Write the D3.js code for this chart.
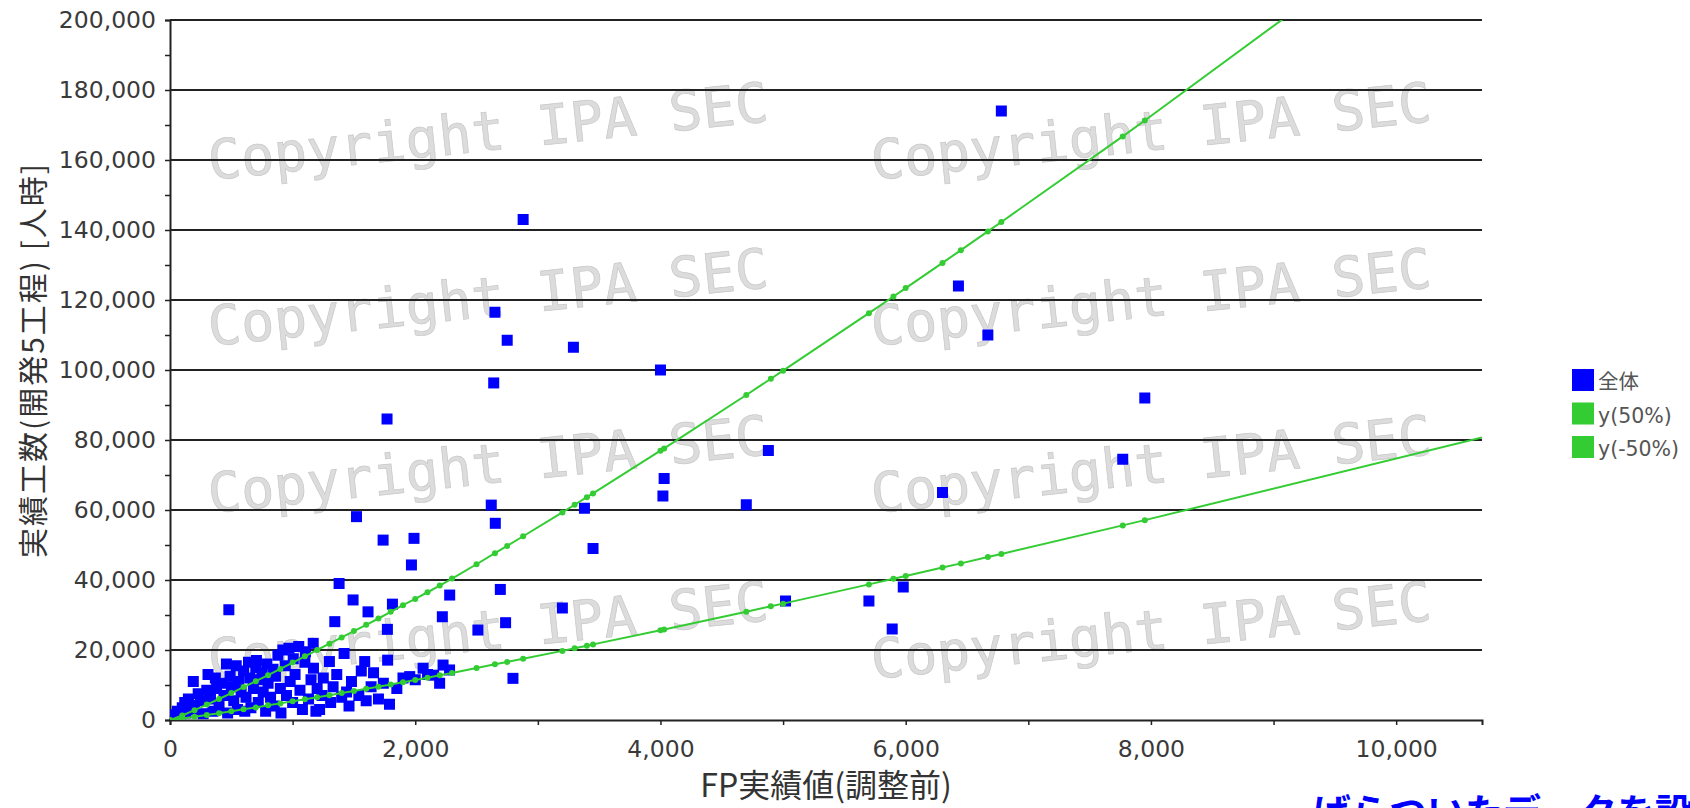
<!DOCTYPE html>
<html>
<head>
<meta charset="utf-8">
<script src="https://cdn.jsdelivr.net/npm/d3@7"></script>
<style>
  body { margin: 0; background: #fff; }
  svg { display: block; }
</style>
</head>
<body>
<div id="graph"></div>
<script>
// FP実績値 / 実績工数 (全体)
var fpValues = [
  20, 40, 60, 80, 100, 120, 130, 150, 170, 190, 200, 230, 250, 270, 300, 310, 330, 350, 370, 380,
  400, 420, 440, 460, 470, 480, 490, 500, 520, 540, 550, 560, 580, 600, 610,
  620, 640, 650, 660, 680, 700, 705, 720, 730, 750, 760, 780, 790, 800, 820, 840, 850, 860, 880, 900, 905,
  920, 940, 950, 970, 980, 1000, 1005, 1020, 1050, 1060, 1080, 1100, 1105, 1130, 1150, 1170, 1168, 1190, 1200,
  1220, 1240, 1250, 1300, 1310, 1330, 1344, 1360, 1379, 1400, 1420, 1440, 1460, 1480, 1493,
  1521, 1540, 1560, 1588, 1600, 1615, 1640, 1660, 1700, 1740, 1738, 1773, 1775, 1790, 1770, 1814,
  1850, 1900, 1955, 1969, 1990, 2000, 2064, 2100, 2150, 2199, 2221, 2227, 2281, 2280,
  2511, 2620, 2653, 2694, 2737, 2797, 2650, 2640, 2750, 2880,
  3200, 3290, 3380, 3450, 4000, 4030, 4020, 4700, 4880, 5020, 5700, 5890, 5980, 6300, 6430, 6670, 6780, 7770, 7950
];
var effortValues = [
  800, 1500, 2500, 1200, 3500, 5000, 2000, 6000, 4200, 11000, 3000, 7500, 5500, 1800, 8500, 13000, 6000, 2500, 12000, 9000,
  4000, 10500, 7000, 16000, 2000, 31500, 12500, 9500, 5500, 15500, 3000, 11000, 8000, 14000, 2500,
  6500, 16500, 12000, 3500, 9000, 15000, 17000, 5000, 11500, 13500, 8000, 2500, 16000, 10500, 6500, 14500, 4000, 12500, 18500, 9000, 2000,
  20000, 15500, 7000, 20500, 11000, 5000, 17500, 13000, 21000, 8500, 3000, 16500, 19500, 6000, 11500, 14800, 21900, 2500, 9000,
  3000, 7000, 12000, 16700, 5000, 9500, 28100, 13000, 39000, 6500, 19000, 8000, 4000, 11000, 34300,
  58100, 7000, 14000, 16700, 5500, 30900, 9500, 13500, 6000, 10500, 51400, 25900, 17100, 4500, 86000, 33100,
  9000, 12000, 12400, 44300, 51900, 11500, 14800, 13000, 12800, 10500, 29500, 15700, 35700, 14300,
  25700, 61400, 56200, 37300, 27800, 11900, 116500, 96300, 108500, 143000,
  32000, 106500, 60500, 49000, 100000, 69000, 64000, 61500, 77000, 34000, 34000, 26000, 38000, 65000, 124000, 110000, 174000, 74500, 92000
];

// y(50%) / y(-50%) の点 (最後の点は線の端)
var fitFp = [0, 100, 200, 300, 400, 500, 600, 700, 800, 900, 1000, 1100, 1200, 1300, 1400, 1500, 1600, 1700, 1800, 1900,
  2000, 2100, 2200, 2300, 2500, 2650, 2750, 2880, 3200, 3300, 3400, 3450, 4000, 4030, 4700, 4900, 5000, 5700, 5900,
  6000, 6300, 6450, 6670, 6780, 7770, 7950, 10700];
var fitUpper = [0, 1300, 2800, 4400, 6000, 7700, 9400, 11100, 12800, 14600, 16400, 18200, 20000, 21800, 23600, 25400, 27200, 29000, 30900, 32800,
  34600, 36500, 38400, 40400, 44500, 47650, 49750, 52500, 59300, 61500, 63650, 64750, 76950, 77600, 92850, 97500, 99800, 116250, 121000,
  123400, 130600, 134250, 139600, 142300, 166750, 171300, 242000];
var fitLower = [0, 400, 900, 1400, 1950, 2500, 3050, 3600, 4200, 4750, 5350, 5900, 6500, 7100, 7700, 8300, 8900, 9500, 10150, 10800,
  11450, 12100, 12800, 13450, 14850, 15900, 16600, 17500, 19750, 20500, 21200, 21600, 25650, 25850, 30950, 32500, 33250, 38750, 40350,
  41150, 43550, 44750, 46550, 47450, 55600, 57100, 80700];

var xTicks = [0, 2000, 4000, 6000, 8000, 10000];
var xMinorTicks = [0, 1000, 2000, 3000, 4000, 5000, 6000, 7000, 8000, 9000, 10000];
var yTicks = [0, 20000, 40000, 60000, 80000, 100000, 120000, 140000, 160000, 180000, 200000];
var yMinorTicks = [0, 10000, 20000, 30000, 40000, 50000, 60000, 70000, 80000, 90000, 100000,
  110000, 120000, 130000, 140000, 150000, 160000, 170000, 180000, 190000, 200000];
var legendLabels = ["全体", "y(50%)", "y(-50%)"];
var legendColors = ["#0000ff", "#33cc33", "#33cc33"];
var xTitle = "FP実績値(調整前)";
var yTitle = "実績工数(開発5工程) [人時]";
var watermark = "Copyright IPA SEC";
var footNote = "ばらついたデータを設";

var margin = {top: 20, right: 208, bottom: 88, left: 170},
    width = 1690 - margin.left - margin.right,
    height = 808 - margin.top - margin.bottom;

var x = d3.scaleLinear().domain([0, 10700]).range([0, width]);
var y = d3.scaleLinear().domain([0, 200000]).range([height, 0]);
var fmt = d3.format(",");

var root = d3.select("#graph").append("svg")
    .attr("width", 1690)
    .attr("height", 808)
    .style("font-family", "'DejaVu Sans', 'Noto Sans CJK JP', sans-serif");

var svg = root.append("g")
    .attr("transform", "translate(" + margin.left + "," + margin.top + ")");

svg.append("clipPath").attr("id", "plot")
  .append("rect").attr("width", width).attr("height", height);

// watermark
var wmX = [40, 703], wmY = [160, 326, 493, 659];
wmY.forEach(function(yy) {
  wmX.forEach(function(xx) {
    svg.append("text")
        .attr("transform", "translate(" + xx + "," + yy + ") rotate(-6)")
        .style("font-family", "'DejaVu Sans Mono', monospace")
        .style("font-size", "55px")
        .style("fill", "#dcdcdc")
        .style("stroke", "#c8c8c8")
        .style("stroke-width", 0.7)
        .text(watermark);
  });
});

// gridlines
svg.selectAll(".grid")
    .data(yTicks.slice(1))
  .enter().append("line")
    .attr("class", "grid")
    .attr("x1", 0).attr("x2", width)
    .attr("y1", function(d) { return y(d); })
    .attr("y2", function(d) { return y(d); })
    .style("stroke", "#222")
    .style("stroke-width", 2);

// axes
var yAxis = svg.append("g")
    .call(d3.axisLeft(y).tickValues(yMinorTicks).tickSize(5).tickPadding(9)
      .tickFormat(function(d) { return yTicks.indexOf(d) >= 0 ? fmt(d) : ""; }));
var xAxis = svg.append("g")
    .attr("transform", "translate(0," + height + ")")
    .call(d3.axisBottom(x).tickValues(xMinorTicks).tickSize(5).tickPadding(15)
      .tickFormat(function(d) { return xTicks.indexOf(d) >= 0 ? fmt(d) : ""; }));
[xAxis, yAxis].forEach(function(a) {
  a.select(".domain").style("stroke", "#222").style("stroke-width", 2);
  a.selectAll(".tick line").style("stroke", "#222").style("stroke-width", 1.5);
  a.selectAll(".tick text")
      .style("font-size", "23.5px")
      .style("font-family", "'DejaVu Sans', sans-serif")
      .style("fill", "#3a3a3a");
});

// points
var pts = fpValues.map(function(d, i) { return [d, effortValues[i]]; });
var plot = svg.append("g").attr("clip-path", "url(#plot)");
plot.selectAll(".dot")
    .data(pts)
  .enter().append("rect")
    .attr("class", "dot")
    .attr("x", function(d) { return x(d[0]) - 5.5; })
    .attr("y", function(d) { return y(d[1]) - 5.5; })
    .attr("width", 11)
    .attr("height", 11)
    .style("fill", "#0000ff");

// fit lines
[fitUpper, fitLower].forEach(function(series) {
  var line = fitFp.map(function(d, i) { return [d, series[i]]; });
  plot.append("path")
      .datum(line)
      .attr("d", d3.line().x(function(d) { return x(d[0]); }).y(function(d) { return y(d[1]); }))
      .style("fill", "none")
      .style("stroke", "#33cc33")
      .style("stroke-width", 2);
  plot.selectAll(null)
      .data(line.slice(0, -1))
    .enter().append("circle")
      .attr("r", 3)
      .attr("cx", function(d) { return x(d[0]); })
      .attr("cy", function(d) { return y(d[1]); })
      .style("fill", "#33cc33");
});

// axis titles
svg.append("text")
    .attr("x", width / 2)
    .attr("y", 777)
    .style("font-family", "'Noto Sans CJK JP', sans-serif")
    .style("font-size", "32px")
    .style("fill", "#333")
    .style("text-anchor", "middle")
    .text(xTitle);
svg.append("text")
    .attr("transform", "rotate(-90)")
    .attr("x", -340)
    .attr("y", -126)
    .style("font-family", "'Noto Sans CJK JP', sans-serif")
    .style("font-size", "30px")
    .style("letter-spacing", "2px")
    .style("fill", "#333")
    .style("text-anchor", "middle")
    .text(yTitle);

// legend
var legend = root.append("g").attr("transform", "translate(1572,369)");
legend.selectAll("rect")
    .data(legendLabels)
  .enter().append("rect")
    .attr("y", function(d, i) { return i * 33.5; })
    .attr("width", 22).attr("height", 22)
    .style("fill", function(d, i) { return legendColors[i]; });
legend.selectAll("text")
    .data(legendLabels)
  .enter().append("text")
    .attr("x", 26)
    .attr("y", function(d, i) { return i * 33.5 + 20; })
    .style("font-family", "'DejaVu Sans', 'Noto Sans CJK JP', sans-serif")
    .style("font-size", "20.5px")
    .style("fill", "#555")
    .text(function(d) { return d; });

// bottom note (cut off by the window)
root.append("text")
    .attr("x", 1313)
    .attr("y", 826)
    .style("font-family", "'Noto Sans CJK JP', sans-serif")
    .style("font-weight", "bold")
    .style("font-size", "38px")
    .style("fill", "#0000ff")
    .text(footNote);
</script>
</body>
</html>
